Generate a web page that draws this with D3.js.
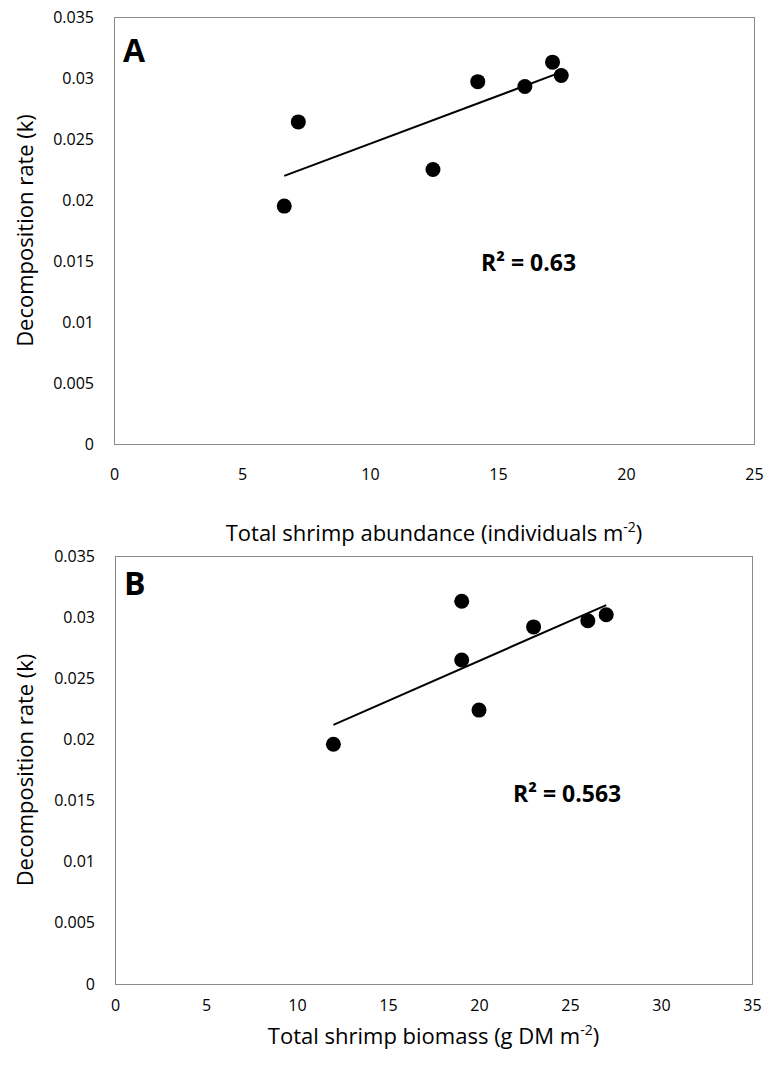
<!DOCTYPE html>
<html>
<head>
<meta charset="utf-8">
<script src="https://cdn.jsdelivr.net/npm/d3@7"></script>
<style>
  html, body { margin: 0; padding: 0; background: #fff; }
  svg { display: block; }
  text { font-family: "Open Sans", "Noto Sans", sans-serif; fill: #000; }
</style>
</head>
<body>
<svg id="chart" width="770" height="1065"></svg>
<script>
// ---- Data ----
const decompRate = [0.0195, 0.0264, 0.0225, 0.0297, 0.0293, 0.0313, 0.0302];
const abundance  = [6.65, 7.20, 12.46, 14.21, 16.05, 17.13, 17.47];
const biomassY   = [0.0196, 0.0313, 0.0265, 0.0224, 0.0292, 0.0297, 0.0302];
const biomass    = [12.0, 19.05, 19.05, 20.0, 23.0, 25.98, 26.99];

const yTickValues = [0, 0.005, 0.01, 0.015, 0.02, 0.025, 0.03, 0.035];
const yTickLabels = ["0", "0.005", "0.01", "0.015", "0.02", "0.025", "0.03", "0.035"];
const xTicksA = [0, 5, 10, 15, 20, 25];
const xTicksB = [0, 5, 10, 15, 20, 25, 30, 35];

const panels = [
  { letter: "A", xs: abundance, ys: decompRate, xMax: 25, xTicks: xTicksA,
    xTitle: "Total shrimp abundance (individuals m", r2: "R² = 0.63",
    r2Pos: [14.34, 0.01422], tickPad: 36, titleOff: 97, letterOff: 45,
    left: 114, right: 754, top: 17, bottom: 444 },
  { letter: "B", xs: biomass, ys: biomassY, xMax: 35, xTicks: xTicksB,
    xTitle: "Total shrimp biomass (g DM m", r2: "R² = 0.563",
    r2Pos: [21.87, 0.01492], tickPad: 27, titleOff: 60, letterOff: 39,
    left: 115, right: 752, top: 556, bottom: 984 }
];

const svg = d3.select("#chart");

panels.forEach(p => {
  const x = d3.scaleLinear().domain([0, p.xMax]).range([p.left, p.right]);
  const y = d3.scaleLinear().domain([0, 0.035]).range([p.bottom, p.top]);
  const g = svg.append("g");

  // plot border
  g.append("rect")
    .attr("x", p.left + 0.5).attr("y", p.top + 0.5)
    .attr("width", p.right - p.left).attr("height", p.bottom - p.top)
    .attr("fill", "none").attr("stroke", "#8a8a8a").attr("stroke-width", 1);

  // y axis
  const yAx = g.append("g").attr("transform", `translate(${p.left},0)`)
    .call(d3.axisLeft(y).tickValues(yTickValues).tickSize(0).tickPadding(20)
      .tickFormat((d, i) => yTickLabels[i]));
  yAx.select(".domain").remove();
  yAx.selectAll("text").attr("font-size", 16).attr("font-family", '"Open Sans", sans-serif').attr("fill", "#000");

  // x axis
  const xAx = g.append("g").attr("transform", `translate(0,${p.bottom})`)
    .call(d3.axisBottom(x).tickValues(p.xTicks).tickSize(0).tickPadding(p.tickPad)
      .tickFormat(d3.format("d")));
  xAx.select(".domain").remove();
  xAx.selectAll("text").attr("font-size", 16).attr("font-family", '"Open Sans", sans-serif').attr("fill", "#000")
    .attr("dy", "0");

  // regression line
  const n = p.xs.length;
  const mx = d3.mean(p.xs), my = d3.mean(p.ys);
  let sxy = 0, sxx = 0;
  for (let i = 0; i < n; i++) { sxy += (p.xs[i] - mx) * (p.ys[i] - my); sxx += (p.xs[i] - mx) ** 2; }
  const slope = sxy / sxx, icpt = my - slope * mx;
  const x0 = d3.min(p.xs), x1 = d3.max(p.xs);
  g.append("line")
    .attr("x1", x(x0)).attr("y1", y(icpt + slope * x0))
    .attr("x2", x(x1)).attr("y2", y(icpt + slope * x1))
    .attr("stroke", "#000").attr("stroke-width", 2);

  // points
  g.selectAll("circle.pt").data(p.xs.map((v, i) => [v, p.ys[i]])).enter()
    .append("circle").attr("class", "pt")
    .attr("cx", d => x(d[0])).attr("cy", d => y(d[1])).attr("r", 7.5)
    .attr("fill", "#000");

  // panel letter
  g.append("text").attr("x", p.left + 9).attr("y", p.top + p.letterOff)
    .attr("font-size", 32).attr("font-weight", "bold").text(p.letter);

  // R² label
  g.append("text").attr("x", x(p.r2Pos[0])).attr("y", y(p.r2Pos[1]))
    .attr("font-size", 23).attr("font-weight", "bold").text(p.r2);

  // x title
  const xt = g.append("text").attr("x", (p.left + p.right) / 2).attr("y", p.bottom + p.titleOff)
    .attr("text-anchor", "middle").attr("font-size", 22).text(p.xTitle);
  xt.append("tspan").attr("font-size", 14).attr("dy", -9).text("-2");
  xt.append("tspan").attr("dy", 9).text(")");

  // y title
  g.append("text")
    .attr("transform", `translate(33,${(p.top + p.bottom) / 2}) rotate(-90)`)
    .attr("text-anchor", "middle").attr("font-size", 22).text("Decomposition rate (k)");
});
</script>
</body>
</html>
